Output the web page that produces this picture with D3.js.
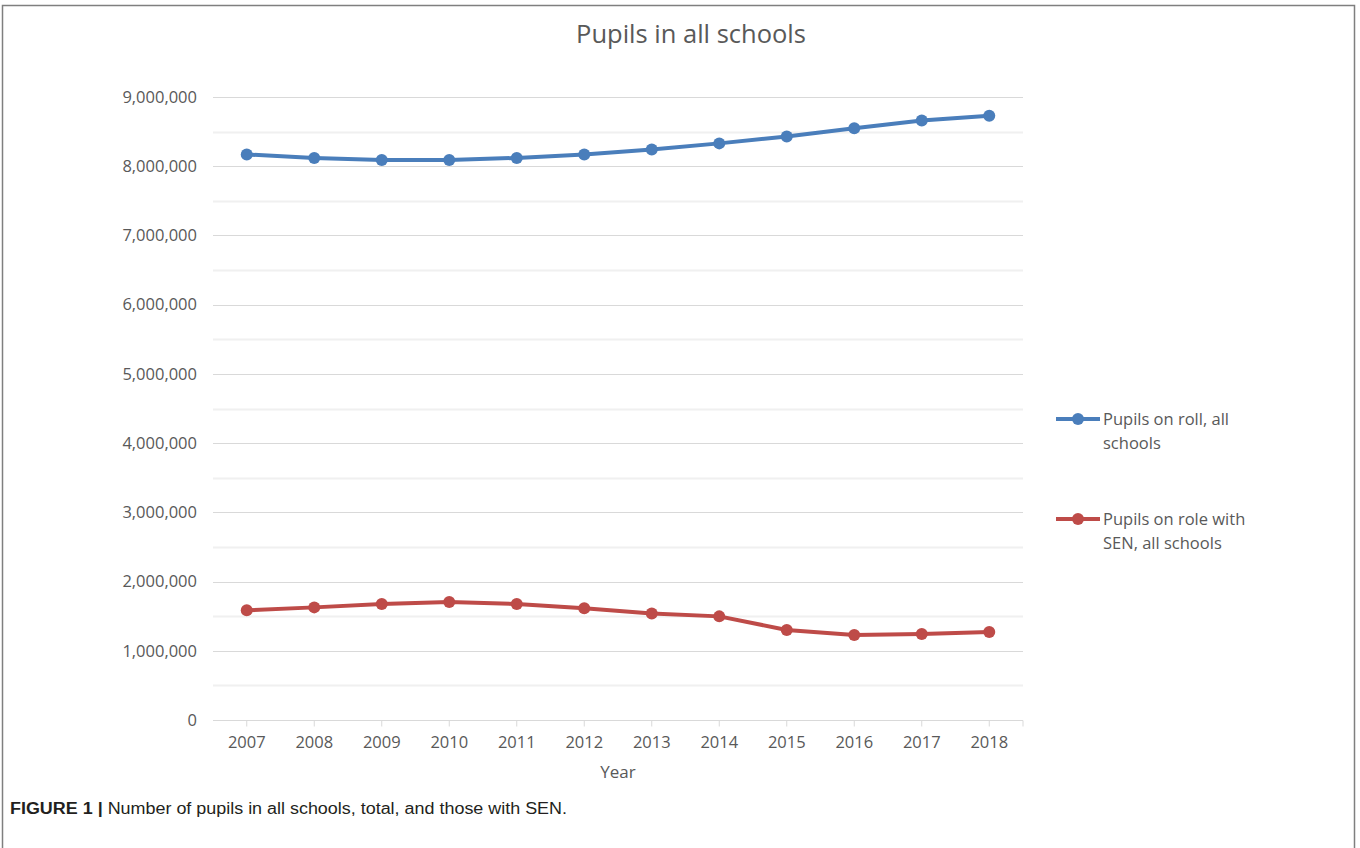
<!DOCTYPE html>
<html>
<head>
<meta charset="utf-8">
<script src="https://cdn.jsdelivr.net/npm/d3@7"></script>
<style>
  body { margin: 0; background: #fff; }
  svg { display: block; }
</style>
</head>
<body>
<script>
var width = 1360;
var height = 848;

var years = ['2007', '2008', '2009', '2010', '2011', '2012', '2013', '2014', '2015', '2016', '2017', '2018'];
var pupilsAll = [8170000, 8120000, 8090000, 8090000, 8120000, 8170000, 8240000, 8330000, 8430000, 8550000, 8660000, 8730000];
var pupilsSen = [1584000, 1627000, 1676000, 1705000, 1676000, 1613000, 1540000, 1497000, 1300000, 1228000, 1242000, 1271000];
var yTicks = [0, 1000000, 2000000, 3000000, 4000000, 5000000, 6000000, 7000000, 8000000, 9000000];
var yMinor = [500000, 1500000, 2500000, 3500000, 4500000, 5500000, 6500000, 7500000, 8500000];
var seriesNames = [['Pupils on roll, all', 'schools'], ['Pupils on role with', 'SEN, all schools']];
var seriesColors = ['#4a7ebb', '#be4b48'];

var plot = {left: 213, right: 1023, top: 97, bottom: 720};
var font = 'Open Sans, Lato, sans-serif';
var textColor = '#595959';

var x = d3.scaleBand().domain(years).range([plot.left, plot.right]);
var y = d3.scaleLinear().domain([0, 9000000]).range([plot.bottom, plot.top]);
var fmt = d3.format(',');

var svg = d3.select('body').append('svg')
  .attr('width', width)
  .attr('height', height);

// frame round the figure
svg.append('rect')
  .attr('x', 2.5).attr('y', 5.5)
  .attr('width', 1352).attr('height', 850)
  .style('fill', 'none')
  .style('stroke', '#7f7f7f')
  .style('stroke-width', 1.5);

// title
svg.append('text')
  .attr('x', 691).attr('y', 43)
  .attr('text-anchor', 'middle')
  .style('font-family', font)
  .style('font-size', '25.5px')
  .style('fill', textColor)
  .text('Pupils in all schools');

// minor gridlines
svg.append('g').selectAll('line')
  .data(yMinor)
  .enter()
  .append('line')
  .attr('x1', plot.left).attr('x2', plot.right)
  .attr('y1', d => Math.round(y(d)) + 0.5)
  .attr('y2', d => Math.round(y(d)) + 0.5)
  .style('stroke', '#f0f0f0')
  .style('stroke-width', 2);

// major gridlines
svg.append('g').selectAll('line')
  .data(yTicks.slice(1))
  .enter()
  .append('line')
  .attr('x1', plot.left).attr('x2', plot.right)
  .attr('y1', d => Math.round(y(d)) + 0.5)
  .attr('y2', d => Math.round(y(d)) + 0.5)
  .style('stroke', '#d9d9d9')
  .style('stroke-width', 1);

// y axis labels
var yAxis = d3.axisLeft(y).tickValues(yTicks).tickFormat(fmt).tickSize(0).tickPadding(16);
var gy = svg.append('g')
  .attr('transform', 'translate(' + plot.left + ',0)')
  .call(yAxis);
gy.select('.domain').remove();
gy.selectAll('text')
  .style('font-family', font)
  .style('font-size', '16.5px')
  .style('fill', textColor);

// x axis
var xAxis = d3.axisBottom(x).tickSize(6).tickPadding(10);
var gx = svg.append('g')
  .attr('transform', 'translate(0,' + (plot.bottom + 0.5) + ')')
  .call(xAxis);
gx.select('.domain')
  .attr('d', 'M' + plot.left + ',0H' + plot.right + 'V6')
  .style('stroke', '#d9d9d9');
gx.selectAll('.tick line').style('stroke', '#d9d9d9');
gx.selectAll('text')
  .style('font-family', font)
  .style('font-size', '16.5px')
  .style('fill', textColor);

svg.append('text')
  .attr('x', (plot.left + plot.right) / 2).attr('y', 778)
  .attr('text-anchor', 'middle')
  .style('font-family', font)
  .style('font-size', '17px')
  .style('fill', textColor)
  .text('Year');

// series
var line = d3.line()
  .x((d, i) => x(years[i]) + x.bandwidth() / 2)
  .y(d => y(d));

[pupilsAll, pupilsSen].forEach(function (values, s) {
  var g = svg.append('g');
  g.append('path')
    .attr('d', line(values))
    .style('fill', 'none')
    .style('stroke', seriesColors[s])
    .style('stroke-width', 4)
    .style('stroke-linejoin', 'round');
  g.selectAll('circle')
    .data(values)
    .enter()
    .append('circle')
    .attr('cx', (d, i) => x(years[i]) + x.bandwidth() / 2)
    .attr('cy', d => y(d))
    .attr('r', 6)
    .style('fill', seriesColors[s]);
});

// legend
var legendY = [419, 519];
seriesNames.forEach(function (lines, s) {
  var g = svg.append('g').attr('transform', 'translate(1056,' + legendY[s] + ')');
  g.append('line')
    .attr('x1', 0).attr('x2', 44)
    .style('stroke', seriesColors[s])
    .style('stroke-width', 4);
  g.append('circle')
    .attr('cx', 22).attr('r', 6)
    .style('fill', seriesColors[s]);
  lines.forEach(function (t, k) {
    g.append('text')
      .attr('x', 47).attr('y', k * 24 + 6)
      .style('font-family', font)
      .style('font-size', '16.5px')
      .style('fill', textColor)
      .text(t);
  });
});

// caption
var cap = svg.append('text')
  .attr('x', 10).attr('y', 814)
  .attr('textLength', 557)
  .attr('lengthAdjust', 'spacingAndGlyphs')
  .style('font-family', 'Liberation Sans, Arial, sans-serif')
  .style('font-size', '16px')
  .style('fill', '#231f20');
cap.append('tspan').style('font-weight', 'bold').text('FIGURE 1 | ');
cap.append('tspan').text('Number of pupils in all schools, total, and those with SEN.');
</script>
</body>
</html>
